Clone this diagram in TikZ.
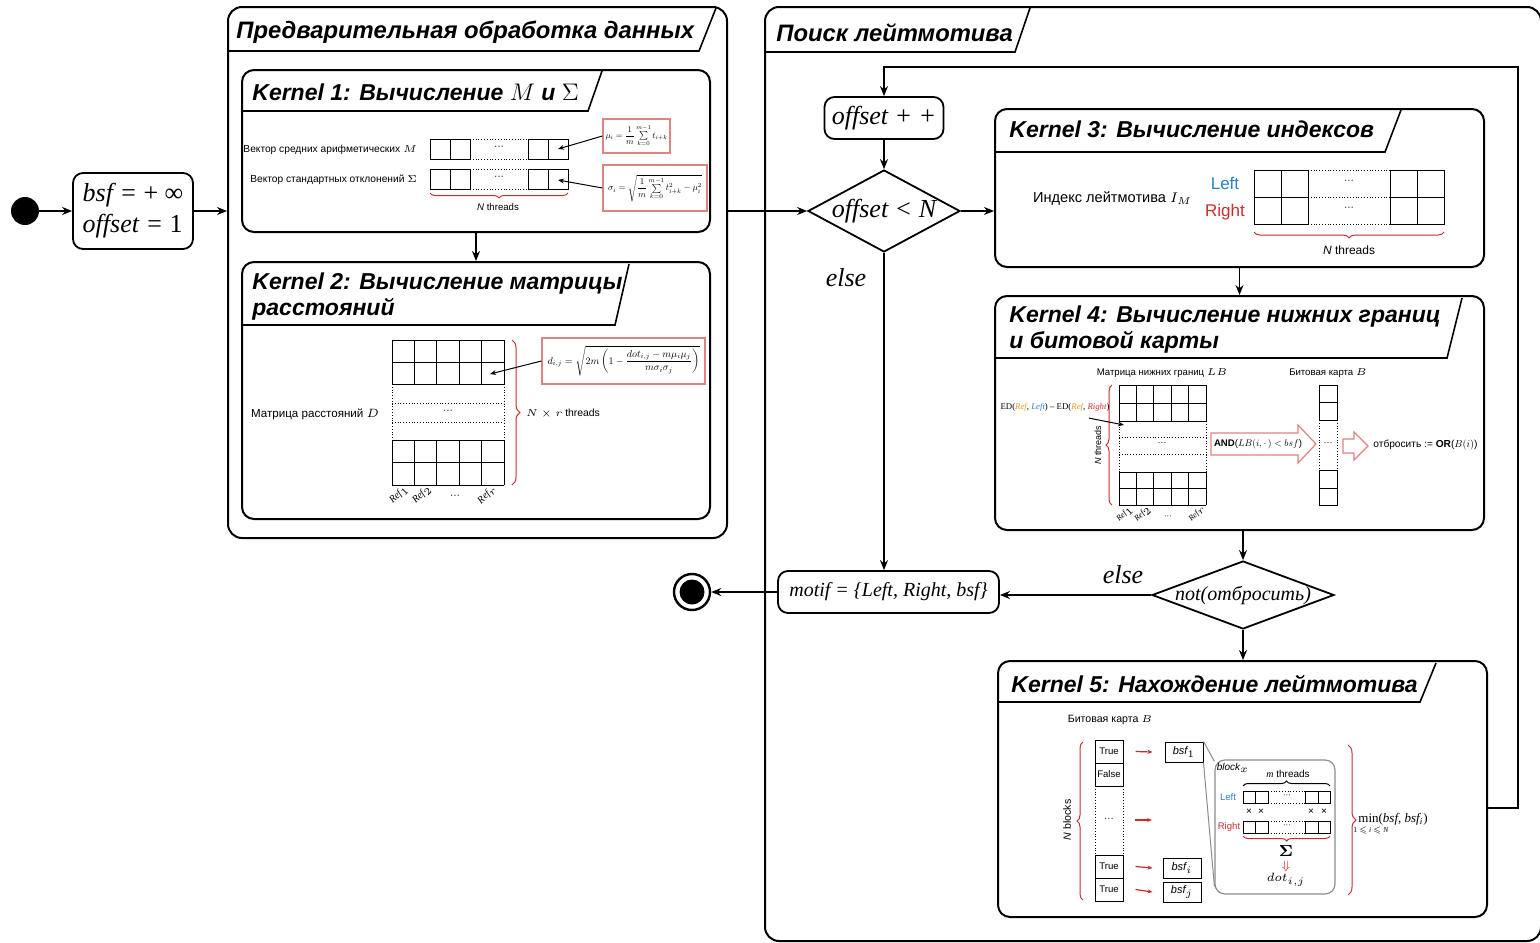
\documentclass[tikz,border=0pt]{standalone}
\usepackage{amsmath,amssymb}
\usepackage{graphicx}
\usepackage{fontspec}
\setmainfont{Liberation Sans}
\newfontfamily\tms{Liberation Serif}
\usetikzlibrary{arrows.meta,decorations.pathreplacing,shapes.geometric,fit,calc}
\definecolor{bred}{RGB}{200,45,45}
\definecolor{fred}{RGB}{222,130,130}
\definecolor{lblue}{RGB}{40,130,205}
\definecolor{rorange}{RGB}{240,150,40}
\definecolor{ggray}{RGB}{140,140,140}
\tikzset{
  frame/.style={draw, line width=1pt, rounded corners=7pt, inner sep=0pt},
  kframe/.style={draw, line width=1pt, rounded corners=6pt, inner sep=0pt},
  tabline/.style={line width=0.8pt},
  gtitle/.style={font=\fontsize{11.9}{14}\selectfont\bfseries\itshape, anchor=west, inner sep=0pt},
  ktitle/.style={font=\fontsize{11.5}{13}\selectfont\bfseries\itshape, anchor=west, inner sep=0pt, align=left},
  rbox/.style={draw, line width=0.9pt, rounded corners=5pt, inner sep=0pt},
  arr/.style={-{Stealth[length=5pt,width=4pt]}, line width=0.7pt},
  sarr/.style={-{Stealth[length=3pt,width=2.4pt]}, line width=0.5pt},
  rarr/.style={-{Stealth[length=2.5pt,width=2pt]}, line width=0.6pt, bred},
  fbox/.style={draw=fred, line width=0.6pt, inner sep=0pt},
  grid/.style={line width=0.5pt},
  dgrid/.style={line width=0.4pt, densely dotted},
  rbrace/.style={bred, line width=0.5pt, decorate},
  tm/.style={font=\fontsize{13}{15.5}\selectfont\tms\itshape},
  cellb/.style={draw, line width=0.5pt, minimum width=14pt, minimum height=11.5pt, inner sep=0pt, font=\fontsize{4.8}{5}\selectfont},
  bsfbox/.style={draw, line width=0.5pt, minimum width=19pt, minimum height=10pt, inner sep=0pt, font=\fontsize{5.5}{6}\selectfont\itshape},
}
\begin{document}
\begin{tikzpicture}[x=0.5pt,y=-0.5pt]
\useasboundingbox (0,0) rectangle (1540,942);
% ---------- start ----------
\node[circle, fill=black, minimum size=14pt, inner sep=0pt] (start) at (25,211) {};
\node[rbox, tm, align=left, minimum width=60pt, minimum height=38pt] (init) at (133,211) {bsf = {\upshape+ ∞}\\offset = {\upshape 1}};
\draw[arr] (start) -- (init);
% ---------- group 1 ----------
\node[frame, fit={(228,7)(727,538)}] (g1) {};
\draw[tabline] (228,51) -- (699,51) -- (716,8);
\node[gtitle] (g1t) at (236,32) {Предварительная обработка данных};
\draw[arr] (init.east) -- (init.east -| g1.west);
% ---------- kernel 1 ----------
\node[kframe, fit={(242,70)(710,232)}] (k1) {};
\draw[tabline] (242,111) -- (588,111) -- (602,71);
\node[ktitle] (k1t) at (252,92) {Kernel 1: Вычисление $M$ и $\Sigma$};
\node[font=\fontsize{5.1}{6}\selectfont, anchor=east] (lblM) at (424,150) {Вектор средних арифметических $M$};
\node[font=\fontsize{5.1}{6}\selectfont, anchor=east] (lblS) at (424,180) {Вектор стандартных отклонений $\Sigma$};
\foreach \y in {139,169}{
  \draw[grid] (430,\y) rectangle (470,\y+20) (450,\y) -- (450,\y+20)
              (528,\y) rectangle (568,\y+20) (548,\y) -- (548,\y+20);
  \draw[dgrid] (470,\y) -- (528,\y) (470,\y+20) -- (528,\y+20);
  \node[font=\fontsize{5}{6}\selectfont] at (499,\y+9) {···};
}
\node[fbox, minimum width=33.5pt, minimum height=17pt] (fmu) at (636.5,136) {\resizebox{31pt}{!}{$\mu_i=\dfrac{1}{m}\sum\limits_{k=0}^{m-1}t_{i+k}$}};
\node[fbox, minimum width=52pt, minimum height=23pt] (fsig) at (655,188) {\resizebox{47pt}{!}{$\sigma_i=\sqrt{\dfrac{1}{m}\sum\limits_{k=0}^{m-1}t^2_{i+k}-\mu_i^2}$}};
\coordinate (cM) at (558,149);
\coordinate (cS) at (558,180);
\draw[sarr] (fmu.west) -- (cM);
\draw[sarr] (fsig.west) -- (cS);
\draw[rbrace, decoration={brace, mirror, amplitude=2.5pt}] (430,193) -- (568,193);
\node[font=\fontsize{4.8}{5}\selectfont] (nth1) at (498,207) {\textit{N} threads};
% ---------- kernel 2 ----------
\node[kframe, fit={(242,262)(710,519)}] (k2) {};
\draw[arr] (k1.south) -- (k2.north);
\draw[tabline] (242,325) -- (615,325) -- (629,264);
\node[ktitle] (k2t) at (252,297) {Kernel 2: Вычисление матрицы\\расстояний};
\node[font=\fontsize{5.8}{7}\selectfont, anchor=west] (lblD) at (244,414) {Матрица расстояний $D$};
\foreach \i in {0,...,5}{
  \draw[grid] ({392+22.4*\i},340) -- ({392+22.4*\i},384);
  \draw[grid] ({392+22.4*\i},440) -- ({392+22.4*\i},485);
}
\foreach \y in {340,362,384,440,462.5,485}{ \draw[grid] (392,\y) -- (504,\y); }
\draw[dgrid] (392,384) -- (392,440) (504,384) -- (504,440) (392,403) -- (504,403) (392,422) -- (504,422);
\node[font=\fontsize{5}{6}\selectfont] at (448,412) {···};
\draw[rbrace, decoration={brace, amplitude=4pt}] (512,340) -- (512,485);
\node[font=\fontsize{5.2}{7}\selectfont, anchor=west] (nr) at (519,414) {$N\times r$ threads};
\node[fbox, minimum width=81.5pt, minimum height=23pt] (fd) at (623.5,361) {\resizebox{76pt}{!}{$d_{i,j}=\sqrt{2m\left(1-\dfrac{dot_{i,j}-m\mu_i\mu_j}{m\sigma_i\sigma_j}\right)}$}};
\coordinate (cD) at (490,374);
\draw[sarr] (fd.west) -- (cD);
\foreach \x/\t in {399/Ref$_1$, 422/Ref$_2$, 487/Ref$_r$}{
  \node[font=\fontsize{5}{6}\selectfont\tms\itshape, rotate=45] at (\x,495) {\t};
}
\node[font=\fontsize{5}{6}\selectfont] at (455,497) {···};
% ---------- group 2 ----------
\node[frame, fit={(765,7)(1541,941)}] (g2) {};
\draw[tabline] (765,52) -- (1015,52) -- (1030,8);
\node[gtitle] (g2t) at (776,33) {Поиск лейтмотива};
\coordinate (loopR) at (1518,67);
\node[rbox, tm, minimum width=59.5pt, minimum height=21pt] (inc) at (884,118) {offset + +};
\node[diamond, draw, line width=0.9pt, minimum width=76pt, minimum height=41pt, inner sep=0pt] (d1) at (884,211) {};
\node[tm] (d1t) at (d1) {offset < N};
\draw[arr] (inc) -- (d1);
\draw[arr] (g1.east |- d1.west) -- (d1.west);
\node[tm] (else1) at (846,278) {else};
% ---------- kernel 3 ----------
\node[kframe, fit={(995,109)(1484,267)}] (k3) {};
\draw[arr] (d1.east) -- (d1.east -| k3.west);
\draw[tabline] (995,152) -- (1385,152) -- (1401,110);
\node[ktitle] (k3t) at (1009,129) {Kernel 3: Вычисление индексов};
\node[font=\fontsize{7.3}{9}\selectfont, anchor=west] (im) at (1026,199) {Индекс лейтмотива $I_M$};
\node[font=\fontsize{8.5}{10}\selectfont, text=lblue] (lft) at (1225,183) {Left};
\node[font=\fontsize{8.5}{10}\selectfont, text=bred] (rgt) at (1225,212) {Right};
\draw[grid] (1254,170) rectangle (1308,224) (1281,170) -- (1281,224) (1254,197) -- (1308,197)
            (1390,170) rectangle (1444,224) (1417,170) -- (1417,224) (1390,197) -- (1444,197);
\draw[dgrid] (1308,170) -- (1390,170) (1308,197) -- (1390,197) (1308,224) -- (1390,224);
\node[font=\fontsize{5}{6}\selectfont] at (1349,182) {···};
\node[font=\fontsize{5}{6}\selectfont] at (1349,209) {···};
\draw[rbrace, decoration={brace, mirror, amplitude=3pt}] (1254,232) -- (1444,232);
\node[font=\fontsize{6}{7}\selectfont] (nth3) at (1349,250) {\textit{N} threads};
% ---------- kernel 4 ----------
\node[kframe, fit={(995,296)(1484,530)}] (k4) {};
\draw[arr] (k3.south) -- (k4.north);
\draw[tabline] (995,358) -- (1447,358) -- (1462,298);
\node[ktitle] (k4t) at (1009,330) {Kernel 4: Вычисление нижних границ\\и битовой карты};
\node[font=\fontsize{4.8}{6}\selectfont] (lbt) at (1162,373) {Матрица нижних границ $LB$};
\foreach \i in {0,...,5}{
  \draw[grid] ({1119+17.4*\i},385) -- ({1119+17.4*\i},421);
  \draw[grid] ({1119+17.4*\i},472) -- ({1119+17.4*\i},505);
}
\foreach \y in {385,403,421,472,488.5,505}{ \draw[grid] (1119,\y) -- (1206,\y); }
\draw[dgrid] (1119,421) -- (1119,472) (1206,421) -- (1206,472) (1119,437) -- (1206,437) (1119,454) -- (1206,454);
\node[font=\fontsize{4.5}{5}\selectfont] at (1162,444) {···};
\draw[rbrace, decoration={brace, mirror, amplitude=3pt}] (1112,385) -- (1112,505);
\node[font=\fontsize{4.5}{5}\selectfont, rotate=90] (nth4) at (1098,445) {\textit{N} threads};
\node[font=\fontsize{4.4}{5}\selectfont\tms] (ed) at (1055,407) {ED(\textcolor{rorange}{\itshape Ref}, \textcolor{lblue}{\itshape Left}) – ED(\textcolor{rorange}{\itshape Ref}, \textcolor{bred}{\itshape Right})};
\coordinate (cLB) at (1124,425);
\draw[sarr] ([xshift=17pt]ed.south) -- (cLB);
\foreach \x/\t in {1125/Ref$_1$, 1143/Ref$_2$, 1197/Ref$_r$}{
  \node[font=\fontsize{4}{5}\selectfont\tms\itshape, rotate=45, inner sep=0.3pt] at (\x,514) {\t};
}
\node[font=\fontsize{4}{5}\selectfont, inner sep=0.3pt] at (1168,517) {···};
\draw[fred, line width=0.6pt] (1211,433) -- (1298,433) -- (1298,425) -- (1316,444) -- (1298,463) -- (1298,455) -- (1211,455) -- cycle;
\node[inner sep=0pt] (andt) at (1258,444) {\resizebox{44pt}{!}{\textbf{AND}($LB(i,\cdot\,)<bsf$)}};
\draw[grid] (1319,385) rectangle (1337,420) (1319,402) -- (1337,402)
            (1319,470) rectangle (1337,505) (1319,488) -- (1337,488);
\draw[dgrid] (1319,420) -- (1319,470) (1337,420) -- (1337,470);
\node[font=\fontsize{4.5}{5}\selectfont] at (1328,444) {···};
\node[font=\fontsize{4.8}{6}\selectfont] (bmt) at (1328,373) {Битовая карта $B$};
\draw[fred, line width=0.6pt] (1343,439) -- (1354,439) -- (1354,432) -- (1368,446) -- (1354,460) -- (1354,453) -- (1343,453) -- cycle;
\node[inner sep=0pt, anchor=west] (orl) at (1373,445) {\resizebox{52pt}{!}{отбросить := \textbf{OR}($B(i)$)}};
% ---------- decision 2 / motif ----------
\node[diamond, draw, line width=0.9pt, minimum width=91pt, minimum height=34pt, inner sep=0pt] (d2) at (1243,595) {};
\node[font=\fontsize{10}{12}\selectfont\tms\itshape] (d2t) at (d2) {not(отбросить)};
\draw[arr] (k4.south -| d2.north) -- (d2.north);
\node[rbox, font=\fontsize{10}{12}\selectfont\tms\itshape, minimum width=110.5pt, minimum height=21pt] (motif) at (888.5,592) {motif = \{Left, Right, bsf\}};
\draw[arr] (d1.south) -- (d1.south |- motif.north);
\draw[arr] (d2.west) -- (d2.west -| motif.east);
\node[tm] (else2) at (1123,575) {else};
\node[circle, draw, line width=1.2pt, minimum size=18pt, inner sep=0pt] (endo) at (692,592) {};
\node[circle, fill=black, minimum size=12.5pt, inner sep=0pt] (endi) at (692,592) {};
\draw[arr] (motif.west) -- (endo.east);
% ---------- kernel 5 ----------
\node[kframe, fit={(998,661)(1487,917)}] (k5) {};
\draw[arr] (d2.south) -- (d2.south |- k5.north);
\draw[tabline] (998,702) -- (1420,702) -- (1436,663);
\node[ktitle] (k5t) at (1011,684) {Kernel 5: Нахождение лейтмотива};
\node[font=\fontsize{5.3}{6}\selectfont] (bm5) at (1110,720) {Битовая карта $B$};
\draw[rbrace, decoration={brace, mirror, amplitude=3pt}] (1083,742) -- (1083,900);
\node[font=\fontsize{5.3}{6}\selectfont, rotate=90] (nbl) at (1067,820) {\textit{N} blocks};
\node[cellb] (b1) at (1109,751.5) {True};
\node[cellb] (b2) at (1109,774.5) {False};
\node[cellb] (b3) at (1109,866.5) {True};
\node[cellb] (b4) at (1109,889.5) {True};
\draw[dgrid] (1095,786) -- (1095,855) (1123,786) -- (1123,855);
\node[font=\fontsize{4.8}{5}\selectfont] at (1109,820) {···};
\node[bsfbox] (bsf1) at (1184,752) {bsf$_1$};
\node[bsfbox] (bsfi) at (1182,868) {bsf$_i$};
\node[bsfbox] (bsfj) at (1182,892) {bsf$_j$};
\coordinate (dotA) at (1135,820);
\coordinate (dotB) at (1152,820);
\draw[rarr] ([xshift=6pt]b1.east) -- ([xshift=-6pt]bsf1.west);
\draw[rarr] (dotA) -- (dotB);
\draw[rarr] ([xshift=6pt]b3.east) -- ([xshift=-5pt]bsfi.west);
\draw[rarr] ([xshift=6pt]b4.east) -- ([xshift=-5pt]bsfj.west);
\node[draw=ggray, line width=0.6pt, rounded corners=5pt, fit={(1215,760)(1335,894)}, inner sep=0pt] (blk) {};
\draw[ggray, line width=0.5pt] (bsf1.north east) -- ([yshift=-1pt]blk.north west);
\draw[ggray, line width=0.5pt] (bsf1.south east) -- ([yshift=4pt]blk.south west);
\node[font=\fontsize{5}{6}\selectfont\itshape] (blkt) at (1233,768) {block$_x$};
\node[font=\fontsize{5}{6}\selectfont] (mth) at (1288,774) {{\tms\itshape m} threads};
\draw[decorate, line width=0.5pt, decoration={brace, amplitude=2.5pt}] (1243,786) -- (1330,786);
\foreach \y in {791,821}{
  \draw[grid] (1243,\y) rectangle (1268,\y+12) (1255,\y) -- (1255,\y+12)
              (1305,\y) rectangle (1330,\y+12) (1318,\y) -- (1318,\y+12);
  \draw[dgrid] (1268,\y) -- (1305,\y) (1268,\y+12) -- (1305,\y+12);
  \node[font=\fontsize{4}{5}\selectfont] at (1287,\y+5) {···};
}
\node[font=\fontsize{4.8}{5}\selectfont, text=lblue] (lft5) at (1228,797) {Left};
\node[font=\fontsize{4.8}{5}\selectfont, text=bred] (rgt5) at (1229,827) {Right};
\foreach \x in {1249,1261,1311,1324}{ \node[font=\fontsize{5}{5}\selectfont] at (\x,812) {×}; }
\draw[rbrace, decoration={brace, mirror, amplitude=2.5pt}] (1243,836) -- (1330,836);
\node[font=\fontsize{8}{9}\selectfont, inner sep=0pt] (sig5) at (1286,851) {$\boldsymbol{\Sigma}$};
\node[font=\fontsize{6}{7}\selectfont, text=bred, inner sep=0pt] (dar) at (1286,866) {$\Downarrow$};
\node[font=\fontsize{6}{7}\selectfont, inner sep=0pt] (dotij) at (1286,880) {$dot_{i,j}$};
\draw[rbrace, decoration={brace, amplitude=4pt}] (1348,745) -- (1348,895);
\node[font=\fontsize{6.5}{7}\selectfont\tms, anchor=west, inner sep=0pt] (minl) at (1358,819) {min(\textit{bsf}, \textit{bsf\textsubscript{i}})};
\node[font=\fontsize{3.8}{4}\selectfont\tms, inner sep=0pt] (mins) at (1371,831) {1 $\leqslant$ \textit{i} $\leqslant$ \textit{N}};
\draw[arr] ([yshift=-9.5pt]k5.east) -| (loopR) -| (inc.north);
\end{tikzpicture}
\end{document}
